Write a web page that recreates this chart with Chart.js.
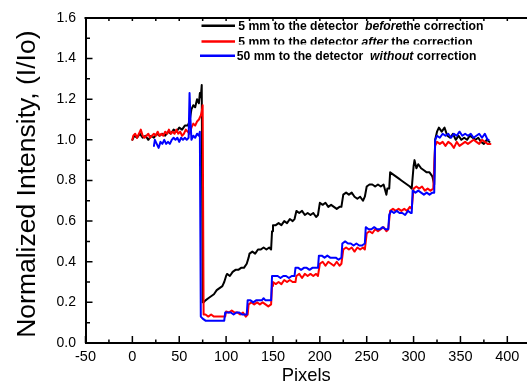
<!DOCTYPE html>
<html><head><meta charset="utf-8">
<script src="https://cdn.jsdelivr.net/npm/chart.js@4/dist/chart.umd.min.js"></script>
<style>html,body{margin:0;padding:0;overflow:hidden;background:#fff;}#wrap{width:527px;height:387px;position:relative;}</style>
</head><body><div id="wrap"><canvas id="c" width="527" height="387"></canvas></div>
<script>
// ---- tick labels ----
const xTicks = [-50, 0, 50, 100, 150, 200, 250, 300, 350, 400];
const yTicks = [0, 0.2, 0.4, 0.6, 0.8, 1.0, 1.2, 1.4, 1.6];
const xTitle = 'Pixels';
const yTitle = 'Normalized Intensity, (I/Io) ';

// ---- series labels (legend) ----
const legendBlack = ['5 mm to the detector  ', 'before', 'the correction'];
const legendRed   = ['5 mm to the detector ', 'after', ' the correction'];
const legendBlue  = ['50 mm to the detector  ', 'without', ' correction'];

// ---- 5 mm before correction (black) ----
const blackX = [0,2,5,8,11,14,17,20,23,26,29,32,35,38,41,44,47,50,53,56,59,61,63,65,67,69,71,72,73,74,75,76,78,81,84,87,90,93,96,98,100,101,104,107,110,113,116,119,122,124,125,128,131,134,137,140,143,146,148,149,150,153,156,159,162,165,168,171,173,175,178,181,184,187,190,193,196,198,200,203,206,209,212,215,218,221,223,225,228,231,234,237,240,243,246,248,250,253,256,259,262,265,268,271,272,274,275,278,281,284,287,290,293,296,298,300,301,303,305,308,311,314,317,320,322,323,325,327,330,333,336,339,342,345,348,351,354,357,360,363,366,369,372,375,378,381];
const blackY = [1.00,1.02,1.01,1.03,1.01,1.02,1.00,1.02,1.01,1.03,1.02,1.03,1.02,1.04,1.03,1.05,1.04,1.06,1.05,1.07,1.07,1.09,1.15,1.17,1.16,1.20,1.18,1.23,1.21,1.27,0.20,0.20,0.21,0.22,0.23,0.24,0.26,0.27,0.28,0.30,0.33,0.34,0.33,0.35,0.36,0.36,0.37,0.37,0.39,0.42,0.44,0.45,0.44,0.46,0.46,0.47,0.46,0.47,0.46,0.55,0.58,0.58,0.59,0.58,0.60,0.59,0.61,0.60,0.61,0.65,0.64,0.65,0.63,0.64,0.63,0.64,0.62,0.63,0.69,0.68,0.69,0.67,0.68,0.67,0.66,0.67,0.67,0.73,0.74,0.73,0.74,0.72,0.71,0.72,0.70,0.72,0.77,0.78,0.78,0.77,0.78,0.77,0.78,0.73,0.76,0.76,0.84,0.83,0.82,0.81,0.80,0.79,0.78,0.77,0.76,0.87,0.90,0.86,0.88,0.86,0.85,0.84,0.84,0.82,0.78,1.00,1.04,1.06,1.04,1.06,1.02,1.01,1.03,1.00,1.02,1.00,1.01,1.00,1.02,1.01,1.00,1.01,0.99,0.98,1.00,0.99];

// ---- 5 mm after correction (red) ----
const redX = [0,1,3,5,7,9,11,13,15,17,19,21,23,25,27,29,31,33,35,37,39,41,43,45,47,49,51,53,55,57,59,61,63,65,67,69,71,73,74,75,76,78,81,84,87,90,93,96,99,100,103,106,109,112,115,118,121,123,124,127,130,133,136,139,142,145,148,149,150,153,156,159,162,165,168,171,174,175,178,181,184,187,190,193,196,198,200,203,206,209,212,215,218,221,223,225,228,231,234,237,240,243,246,248,250,253,256,259,262,265,268,271,273,275,278,281,284,287,290,293,296,298,300,303,306,309,312,315,318,321,323,325,328,331,334,337,340,343,346,349,352,355,358,361,364,367,370,373,376,379,382];
const redY = [1.00,1.02,1.03,1.01,1.03,1.05,1.02,1.01,1.02,1.03,1.01,1.02,1.03,1.02,1.04,1.02,1.03,1.02,1.04,1.03,1.05,1.03,1.04,1.03,1.05,1.03,1.04,1.02,1.03,1.05,1.04,1.03,1.06,1.08,1.07,1.09,1.10,1.12,1.14,1.17,0.14,0.14,0.13,0.14,0.13,0.13,0.13,0.13,0.13,0.155,0.15,0.16,0.15,0.15,0.14,0.15,0.13,0.14,0.19,0.20,0.19,0.20,0.19,0.20,0.19,0.18,0.19,0.28,0.30,0.29,0.30,0.29,0.31,0.30,0.31,0.30,0.30,0.33,0.34,0.32,0.34,0.33,0.34,0.33,0.34,0.33,0.39,0.40,0.38,0.40,0.39,0.38,0.40,0.38,0.39,0.46,0.47,0.46,0.47,0.45,0.47,0.46,0.47,0.46,0.54,0.55,0.54,0.56,0.55,0.56,0.57,0.55,0.56,0.65,0.66,0.65,0.66,0.65,0.66,0.65,0.67,0.66,0.76,0.77,0.76,0.77,0.75,0.76,0.75,0.76,0.97,0.99,0.98,0.99,0.97,0.99,0.98,0.96,0.99,0.97,0.98,0.99,0.98,0.99,1.00,0.99,0.98,1.00,0.99,0.98,0.98];

// ---- 50 mm without correction (blue) ----
const blueX = [23,24,26,28,30,32,34,36,38,40,42,44,46,48,50,52,54,56,58,60,61,62,63,65,67,69,71,72,73,75,78,81,84,87,90,93,96,98,99,102,105,108,111,114,117,120,122,123,126,129,132,135,138,140,142,145,148,149,152,155,158,161,164,167,170,173,174,177,180,183,186,189,192,195,198,199,202,205,208,211,214,217,220,223,224,227,230,233,236,239,242,245,248,249,252,255,258,261,264,267,270,273,274,276,279,282,285,288,291,294,297,298,299,302,305,308,311,314,317,320,322,323,325,328,331,334,337,340,343,346,349,352,355,358,361,364,367,370,373,376,379,380];
const blueY = [0.97,1.00,0.98,0.96,0.99,0.98,1.00,0.98,0.99,0.98,1.00,1.01,1.00,1.01,0.99,1.01,1.00,1.01,1.00,1.01,1.23,1.10,1.00,1.02,1.01,1.03,1.02,1.04,0.13,0.12,0.11,0.11,0.11,0.11,0.11,0.11,0.11,0.11,0.15,0.15,0.15,0.14,0.15,0.15,0.14,0.14,0.14,0.21,0.21,0.20,0.21,0.21,0.21,0.22,0.21,0.21,0.21,0.33,0.33,0.33,0.32,0.33,0.33,0.32,0.33,0.33,0.37,0.37,0.36,0.37,0.37,0.36,0.37,0.37,0.37,0.43,0.43,0.42,0.43,0.42,0.42,0.42,0.41,0.42,0.49,0.50,0.49,0.49,0.48,0.49,0.48,0.48,0.49,0.57,0.56,0.56,0.57,0.56,0.56,0.57,0.56,0.56,0.63,0.65,0.64,0.65,0.64,0.64,0.63,0.65,0.64,0.64,0.75,0.74,0.75,0.74,0.73,0.74,0.73,0.74,0.74,1.00,1.02,1.01,1.03,1.02,1.03,1.01,1.03,1.02,1.04,1.02,1.03,1.02,1.03,1.01,1.02,1.03,1.01,1.03,1.00,1.00];

const FONT = "'Liberation Sans', Arial, Helvetica, sans-serif";
Chart.defaults.font.family = FONT;
Chart.defaults.color = '#000';

const pairs = (xs, ys) => xs.map((x, i) => ({x: x, y: ys[i]}));
const mids = (arr, extra) => {
  const out = [];
  for (let i = 0; i < arr.length - 1; i++) out.push((arr[i] + arr[i + 1]) / 2);
  if (extra) out.push(arr[arr.length - 1] + (arr[1] - arr[0]) / 2);
  return out;
};

const axisDecor = {
  id: 'axisDecor',
  afterDatasetsDraw(chart) {
    const {ctx, chartArea: a, scales: {x, y}} = chart;
    ctx.save();
    ctx.strokeStyle = '#000';
    ctx.lineCap = 'butt';
    // top frame line
    ctx.lineWidth = 2;
    ctx.beginPath(); ctx.moveTo(a.left - 1, a.top); ctx.lineTo(a.right + 2, a.top); ctx.stroke();
    ctx.lineWidth = 1.5;
    const xMinor = mids(xTicks, true);
    ctx.beginPath();
    xTicks.forEach(v => { const p = x.getPixelForValue(v); ctx.moveTo(p, a.bottom); ctx.lineTo(p, a.bottom - 7); });
    xMinor.forEach(v => { const p = x.getPixelForValue(v); if (p < a.right) { ctx.moveTo(p, a.bottom); ctx.lineTo(p, a.bottom - 3.5); } });
    xTicks.concat(xMinor).forEach(v => { const p = x.getPixelForValue(v); if (p > a.left + 2 && p < a.right) { ctx.moveTo(p, a.top); ctx.lineTo(p, a.top + 3); } });
    const yMinor = mids(yTicks, false);
    yTicks.forEach(v => { const p = y.getPixelForValue(v); ctx.moveTo(a.left, p); ctx.lineTo(a.left + 7, p); });
    yMinor.forEach(v => { const p = y.getPixelForValue(v); ctx.moveTo(a.left, p); ctx.lineTo(a.left + 4.5, p); });
    ctx.stroke();
    ctx.restore();
  }
};

const legendPlugin = {
  id: 'customLegend',
  afterDraw(chart) {
    const ctx = chart.ctx;
    const rows = [
      {parts: legendBlack, color: '#000000', lx0: 201.5, lx1: 235, ly: 25.7, tx: 238.3, by: 29.8, clip: null},
      {parts: legendRed, color: '#ff0000', lx0: 201.5, lx1: 235, ly: 41.5, tx: 238.3, by: 45.6, clip: 44.6},
      {parts: legendBlue, color: '#0000ff', lx0: 200, lx1: 235, ly: 55.7, tx: 236.7, by: 59.5, clip: null}
    ];
    ctx.save();
    rows.forEach(r => {
      ctx.strokeStyle = r.color;
      ctx.lineWidth = 2.5;
      ctx.beginPath(); ctx.moveTo(r.lx0, r.ly); ctx.lineTo(r.lx1, r.ly); ctx.stroke();
      ctx.save();
      if (r.clip) { ctx.beginPath(); ctx.rect(236, 0, 291, r.clip); ctx.clip(); }
      ctx.fillStyle = '#000';
      ctx.textBaseline = 'alphabetic';
      ctx.textAlign = 'left';
      let xx = r.tx;
      r.parts.forEach((t, i) => {
        ctx.font = (i === 1 ? 'italic bold ' : 'bold ') + '12.2px ' + FONT;
        ctx.fillText(t, xx, r.by);
        xx += ctx.measureText(t).width;
      });
      ctx.restore();
    });
    ctx.restore();
  }
};

new Chart(document.getElementById('c'), {
  type: 'line',
  data: {
    datasets: [
      {label: legendBlack.join(''), data: pairs(blackX, blackY), borderColor: '#000000', order: 3},
      {label: legendRed.join(''), data: pairs(redX, redY), borderColor: '#ff0000', order: 2},
      {label: legendBlue.join(''), data: pairs(blueX, blueY), borderColor: '#0000ff', order: 1}
    ]
  },
  options: {
    responsive: false,
    animation: false,
    devicePixelRatio: 1,
    layout: {padding: {left: 0, right: 0, top: 15, bottom: 0}},
    elements: {
      point: {radius: 0, hoverRadius: 0},
      line: {borderWidth: 2, tension: 0, fill: false, borderJoinStyle: 'round', borderCapStyle: 'round'}
    },
    plugins: {legend: {display: false}, tooltip: {enabled: false}},
    events: [],
    scales: {
      x: {
        type: 'linear', min: -50, max: 421,
        afterBuildTicks: s => { s.ticks = xTicks.map(v => ({value: v})); },
        afterFit: s => { s.height = 44; },
        ticks: {autoSkip: false, maxRotation: 0, padding: 5, font: {size: 14.5}, color: '#000', callback: v => String(v)},
        grid: {drawOnChartArea: false, drawTicks: false},
        border: {display: true, color: '#000', width: 2},
        title: {display: true, text: xTitle, font: {size: 18.4}, color: '#000', padding: {top: 0, bottom: 0}}
      },
      y: {
        type: 'linear', min: 0, max: 1.6,
        afterBuildTicks: s => { s.ticks = yTicks.map(v => ({value: v})); },
        afterFit: s => { s.width = 85.5; },
        ticks: {autoSkip: false, padding: 9.5, font: {size: 14}, color: '#000', callback: v => v.toFixed(1)},
        grid: {drawOnChartArea: false, drawTicks: false},
        border: {display: true, color: '#000', width: 2},
        title: {display: true, text: yTitle, font: {size: 26.5}, color: '#000', padding: {top: 11.4, bottom: 0}}
      }
    }
  },
  plugins: [axisDecor, legendPlugin]
});
</script>
</body></html>
